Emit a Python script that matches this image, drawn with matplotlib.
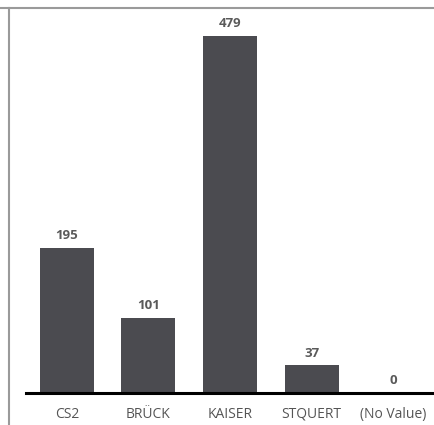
import matplotlib
matplotlib.use("Agg")
import matplotlib.pyplot as plt
from matplotlib.lines import Line2D

categories = ["CS2", "BRÜCK", "KAISER", "STQUERT", "(No Value)"]
values = [195, 101, 479, 37, 0]

plt.rcParams["font.family"] = ["Open Sans", "DejaVu Sans"]

W, H = 435, 425
fig = plt.figure(figsize=(W / 100, H / 100), dpi=100)

# axes placed in pixel terms: left 26, right 434, bottom 393, top 8
ax = fig.add_axes([26 / W, (H - 393) / H, (434 - 26) / W, (393 - 8) / H])

x = range(len(categories))
ax.bar(x, values, width=0.66, color="#4b4b50", zorder=2)
ax.set_xlim(-0.5, len(categories) - 0.5)
ax.set_ylim(0, 516)

for i, v in zip(x, values):
    ax.annotate(str(v), (i, v), xytext=(0, 4), textcoords="offset points",
                ha="center", va="bottom", fontsize=9.5, fontweight="bold",
                color="#5a5a5a")

ax.set_xticks(list(x))
ax.set_xticklabels(categories, fontsize=10, color="#555555")
ax.tick_params(axis="x", length=0, pad=10)
ax.set_yticks([])
for side in ["left", "right", "top"]:
    ax.spines[side].set_visible(False)
ax.spines["bottom"].set_linewidth(2.2)
ax.spines["bottom"].set_color("black")

# frame lines of the surrounding panel
fig.add_artist(Line2D([0, 1], [1 - 7.5 / H, 1 - 7.5 / H], color="#9a9a9a",
                      linewidth=1.5, transform=fig.transFigure))
fig.add_artist(Line2D([9.5 / W, 9.5 / W], [0, 1 - 7.5 / H], color="#9a9a9a",
                      linewidth=1.5, transform=fig.transFigure))

fig.savefig("out.png", dpi=100)
